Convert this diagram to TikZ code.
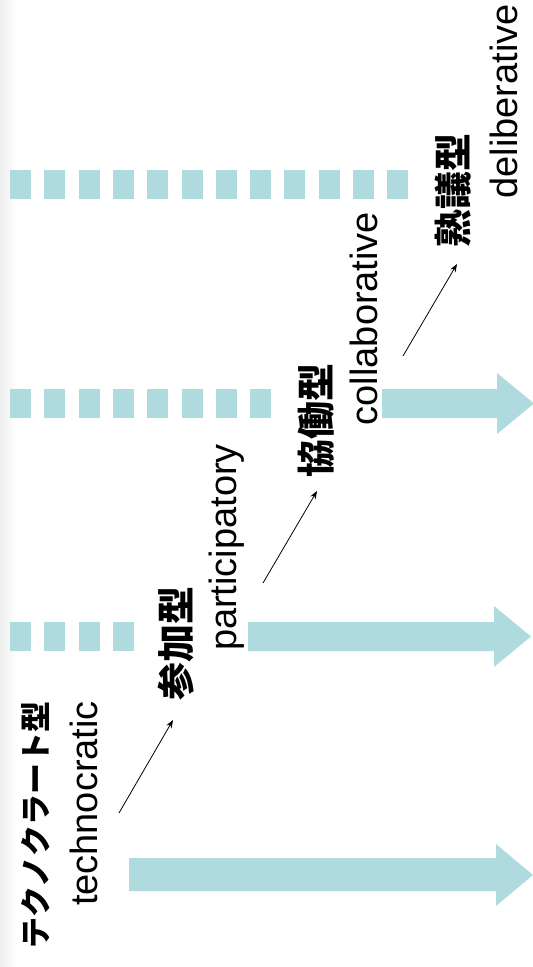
\documentclass[tikz,border=0pt]{standalone}
\usepackage{fontspec}
\usetikzlibrary{arrows.meta}
\setmainfont{Liberation Sans}
\newfontfamily\jp{Noto Sans CJK JP}
\definecolor{bandc}{RGB}{176,219,222}
\tikzset{
  jplab/.style={rotate=90, inner sep=0pt, font=\jp\bfseries\fontsize{38}{40}\selectfont},
  enlab/.style={rotate=90, inner sep=0pt, font=\fontsize{38}{40}\selectfont},
  thinarrow/.style={-{Stealth[length=8pt,width=6pt]}, line width=0.8pt, black},
  sq/.style={fill=bandc},
}
\begin{document}
\begin{tikzpicture}[x=1pt,y=-1pt]
\useasboundingbox (0,0) rectangle (533,967);
\shade[left color=black!7, right color=white] (0,0) rectangle (16,967);
% dashed rows
\foreach \i in {0,...,3} \fill[sq] ({10+34.3*\i},622) rectangle +(21,29);
\foreach \i in {0,...,7} \fill[sq] ({10+34.3*\i},389) rectangle +(21,29);
\foreach \i in {0,...,11} \fill[sq] ({10+34.3*\i},170) rectangle +(21,29);
% thick arrows
\fill[bandc] (129,858) -- (496,858) -- (496,844) -- (533,875) -- (496,906) -- (496,891) -- (129,891) -- cycle;
\fill[bandc] (248,622) -- (494,622) -- (494,606) -- (531,636.5) -- (494,667) -- (494,651) -- (248,651) -- cycle;
\fill[bandc] (382,389) -- (497,389) -- (497,373) -- (534,403.5) -- (497,434) -- (497,418) -- (382,418) -- cycle;
% labels
\node[jplab, font=\jp\bfseries\fontsize{31}{33}\selectfont] (tJ) at (36,825) {テクノクラート型};
\node[enlab] (tE) at (84,803.5) {technocratic};
\node[jplab] (pJ) at (176.5,643.5) {参加型};
\node[enlab] (pE) at (227,547.5) {participatory};
\node[jplab] (cJ) at (316,420) {協働型};
\node[enlab] (cE) at (364,318.5) {collaborative};
\node[jplab] (dJ) at (453.5,190.5) {熟議型};
\node[enlab] (dE) at (503.5,101.5) {deliberative};
% thin arrows
\coordinate (a1s) at (119,813); \coordinate (a1e) at (173,720);
\coordinate (a2s) at (263,583); \coordinate (a2e) at (317,491);
\coordinate (a3s) at (403,356); \coordinate (a3e) at (457,264);
\draw[thinarrow] (a1s) -- (a1e);
\draw[thinarrow] (a2s) -- (a2e);
\draw[thinarrow] (a3s) -- (a3e);
\end{tikzpicture}
\end{document}
